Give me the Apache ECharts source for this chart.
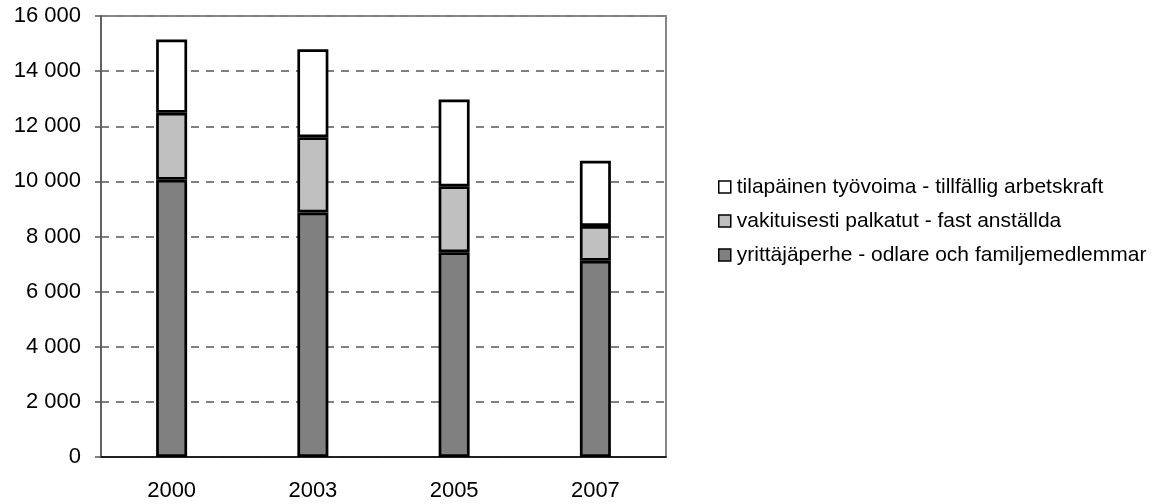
<!DOCTYPE html>
<html>
<head>
<meta charset="utf-8">
<script src="https://cdn.jsdelivr.net/npm/echarts@6/dist/echarts.min.js"></script>
<style>
html,body{margin:0;padding:0;background:#fff;}
#chart{width:1160px;height:504px;}
</style>
</head>
<body>
<div id="chart"></div>
<script>
var categories = ['2000', '2003', '2005', '2007'];
var seriesNames = [
  'yrittäjäperhe - odlare och familjemedlemmar',
  'vakituisesti palkatut - fast anställda',
  'tilapäinen työvoima - tillfällig arbetskraft'
];
var yrittajaperhe = [10060, 8870, 7430, 7120];
var vakituiset = [2430, 2730, 2390, 1260];
var tilapainen = [2660, 3190, 3150, 2370];
var yTicks = [0, 2000, 4000, 6000, 8000, 10000, 12000, 14000, 16000];

var FONT = '"Liberation Sans", Arial, sans-serif';
var colors = ['#808080', '#C0C0C0', '#FFFFFF'];
var values = [yrittajaperhe, vakituiset, tilapainen];

function fmt(v) {
  return String(v).replace(/\B(?=(\d{3})+(?!\d))/g, ' ');
}

var series = values.map(function (arr, i) {
  return {
    name: seriesNames[i],
    type: 'bar',
    stack: 'total',
    data: arr,
    barWidth: 31,
    itemStyle: { color: colors[i], borderColor: '#000', borderWidth: 2.7 },
    emphasis: { disabled: true },
    animation: false
  };
});

var chart = echarts.init(document.getElementById('chart'), null, { renderer: 'canvas' });
chart.setOption({
  animation: false,
  backgroundColor: '#fff',
  textStyle: { fontFamily: FONT, color: '#000' },
  grid: {
    left: 101, right: 494, top: 16, bottom: 47,
    show: true, borderColor: '#888', borderWidth: 2, backgroundColor: 'transparent'
  },
  legend: {
    orient: 'vertical',
    left: 713,
    top: 171,
    itemWidth: 12,
    itemHeight: 12,
    itemGap: 12,
    icon: 'rect',
    data: [seriesNames[2], seriesNames[1], seriesNames[0]],
    itemStyle: { borderColor: '#000', borderWidth: 1.5 },
    textStyle: { fontFamily: FONT, fontSize: 21, lineHeight: 22, color: '#000', padding: [0, 0, 0, 1] }
  },
  xAxis: {
    type: 'category',
    data: categories,
    axisLine: { show: true, lineStyle: { color: '#000', width: 1.5 } },
    axisTick: { show: false },
    axisLabel: { fontFamily: FONT, fontSize: 22, color: '#000', margin: 23 }
  },
  yAxis: {
    type: 'value',
    min: yTicks[0],
    max: yTicks[yTicks.length - 1],
    interval: 2000,
    axisLine: { show: true, lineStyle: { color: '#555', width: 1.5 } },
    axisTick: { show: true, length: 6, lineStyle: { color: '#555', width: 1.5 } },
    axisLabel: { fontFamily: FONT, fontSize: 22, color: '#000', margin: 20, formatter: fmt },
    splitLine: { show: true, lineStyle: { color: '#808080', width: 2, type: [8, 7] } }
  },
  series: series
});
</script>
</body>
</html>
